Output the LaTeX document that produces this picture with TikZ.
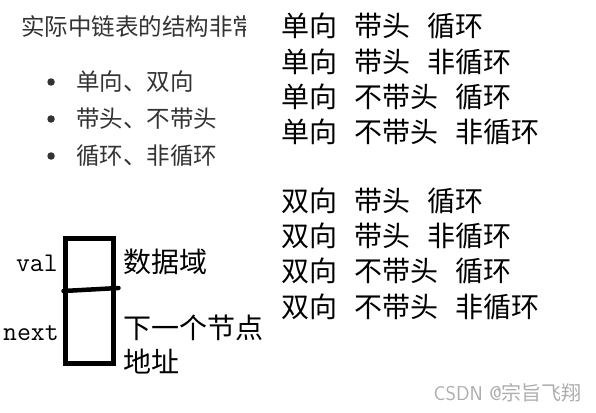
\documentclass[tikz,border=0pt]{standalone}
\usepackage{fontspec}
\newfontfamily\cjksans{Noto Sans CJK SC}
\usetikzlibrary{positioning,calc}
\tikzset{
  note/.style  ={inner sep=0pt, anchor=west, text=black!80,
                 font=\cjksans\fontsize{23.5}{25}\selectfont},
  bullet/.style={circle, fill=black!80, inner sep=0pt, minimum size=7.5pt},
  combo/.style ={inner sep=0pt, anchor=west, text height=22pt, text depth=6pt,
                 font=\cjksans\fontsize{28}{30}\selectfont},
  fld/.style   ={inner sep=0pt, anchor=east, font=\ttfamily\fontsize{27}{29}\selectfont},
  desc/.style  ={inner sep=0pt, anchor=north west, align=left,
                 font=\cjksans\fontsize{28}{33.5}\selectfont},
  cell/.style  ={draw, line width=5pt, minimum width=48pt, minimum height=125pt},
  wmark/.style ={inner sep=0pt, anchor=east, text=black!32,
                 font=\sffamily\fontsize{20}{22}\selectfont},
}
\newcommand{\gap}{\hspace{17pt}}

\begin{document}
\begin{tikzpicture}[x=1pt, y=-1pt]
\useasboundingbox (0,0) rectangle (596,412);

% left: title and list
\begin{scope}
  \clip (0,0) rectangle (245,60);
  \node[note] (title) at (21,27) {实际中链表的结构非常};
\end{scope}
\node[note] (it1) at (76,82)  {单向、双向};
\node[note] (it2) at (76,119) {带头、不带头};
\node[note] (it3) at (76,156) {循环、非循环};
\node[bullet, left=21pt of it1] (d1) {};
\node[bullet, left=21pt of it2] (d2) {};
\node[bullet, left=21pt of it3] (d3) {};

% right: the eight kinds
\node[combo] (k1) at (281,29) {单向\gap 带头\gap 循环};
\node[combo, below=6.8pt of k1.south west, anchor=north west] (k2) {单向\gap 带头\gap 非循环};
\node[combo, below=6.8pt of k2.south west, anchor=north west] (k3) {单向\gap 不带头\gap 循环};
\node[combo, below=6.8pt of k3.south west, anchor=north west] (k4) {单向\gap 不带头\gap 非循环};

\node[combo] (k5) at (281,203.5) {双向\gap 带头\gap 循环};
\node[combo, below=6.8pt of k5.south west, anchor=north west] (k6) {双向\gap 带头\gap 非循环};
\node[combo, below=6.8pt of k6.south west, anchor=north west] (k7) {双向\gap 不带头\gap 循环};
\node[combo, below=6.8pt of k7.south west, anchor=north west] (k8) {双向\gap 不带头\gap 非循环};

% the node: value and next
\node[cell] (cell) at (89.5,301) {};
\draw[line width=4.5pt, line cap=round]
  ($(cell.west)+(0.5,-10)$) -- ($(cell.east)+(2.5,-13)$);
\node[fld] (val)  at (58,263) {val};
\node[fld] (next) at (59,333) {next};
\node[note, text=black, font=\cjksans\fontsize{28}{30}\selectfont] (data) at (123,262) {数据域};
\node[desc] (addr) at (123,315) {下一个节点\\地址};

\node[wmark] (wm) at (582,393) {CSDN @{\cjksans 宗旨飞翔}};
\end{tikzpicture}
\end{document}
